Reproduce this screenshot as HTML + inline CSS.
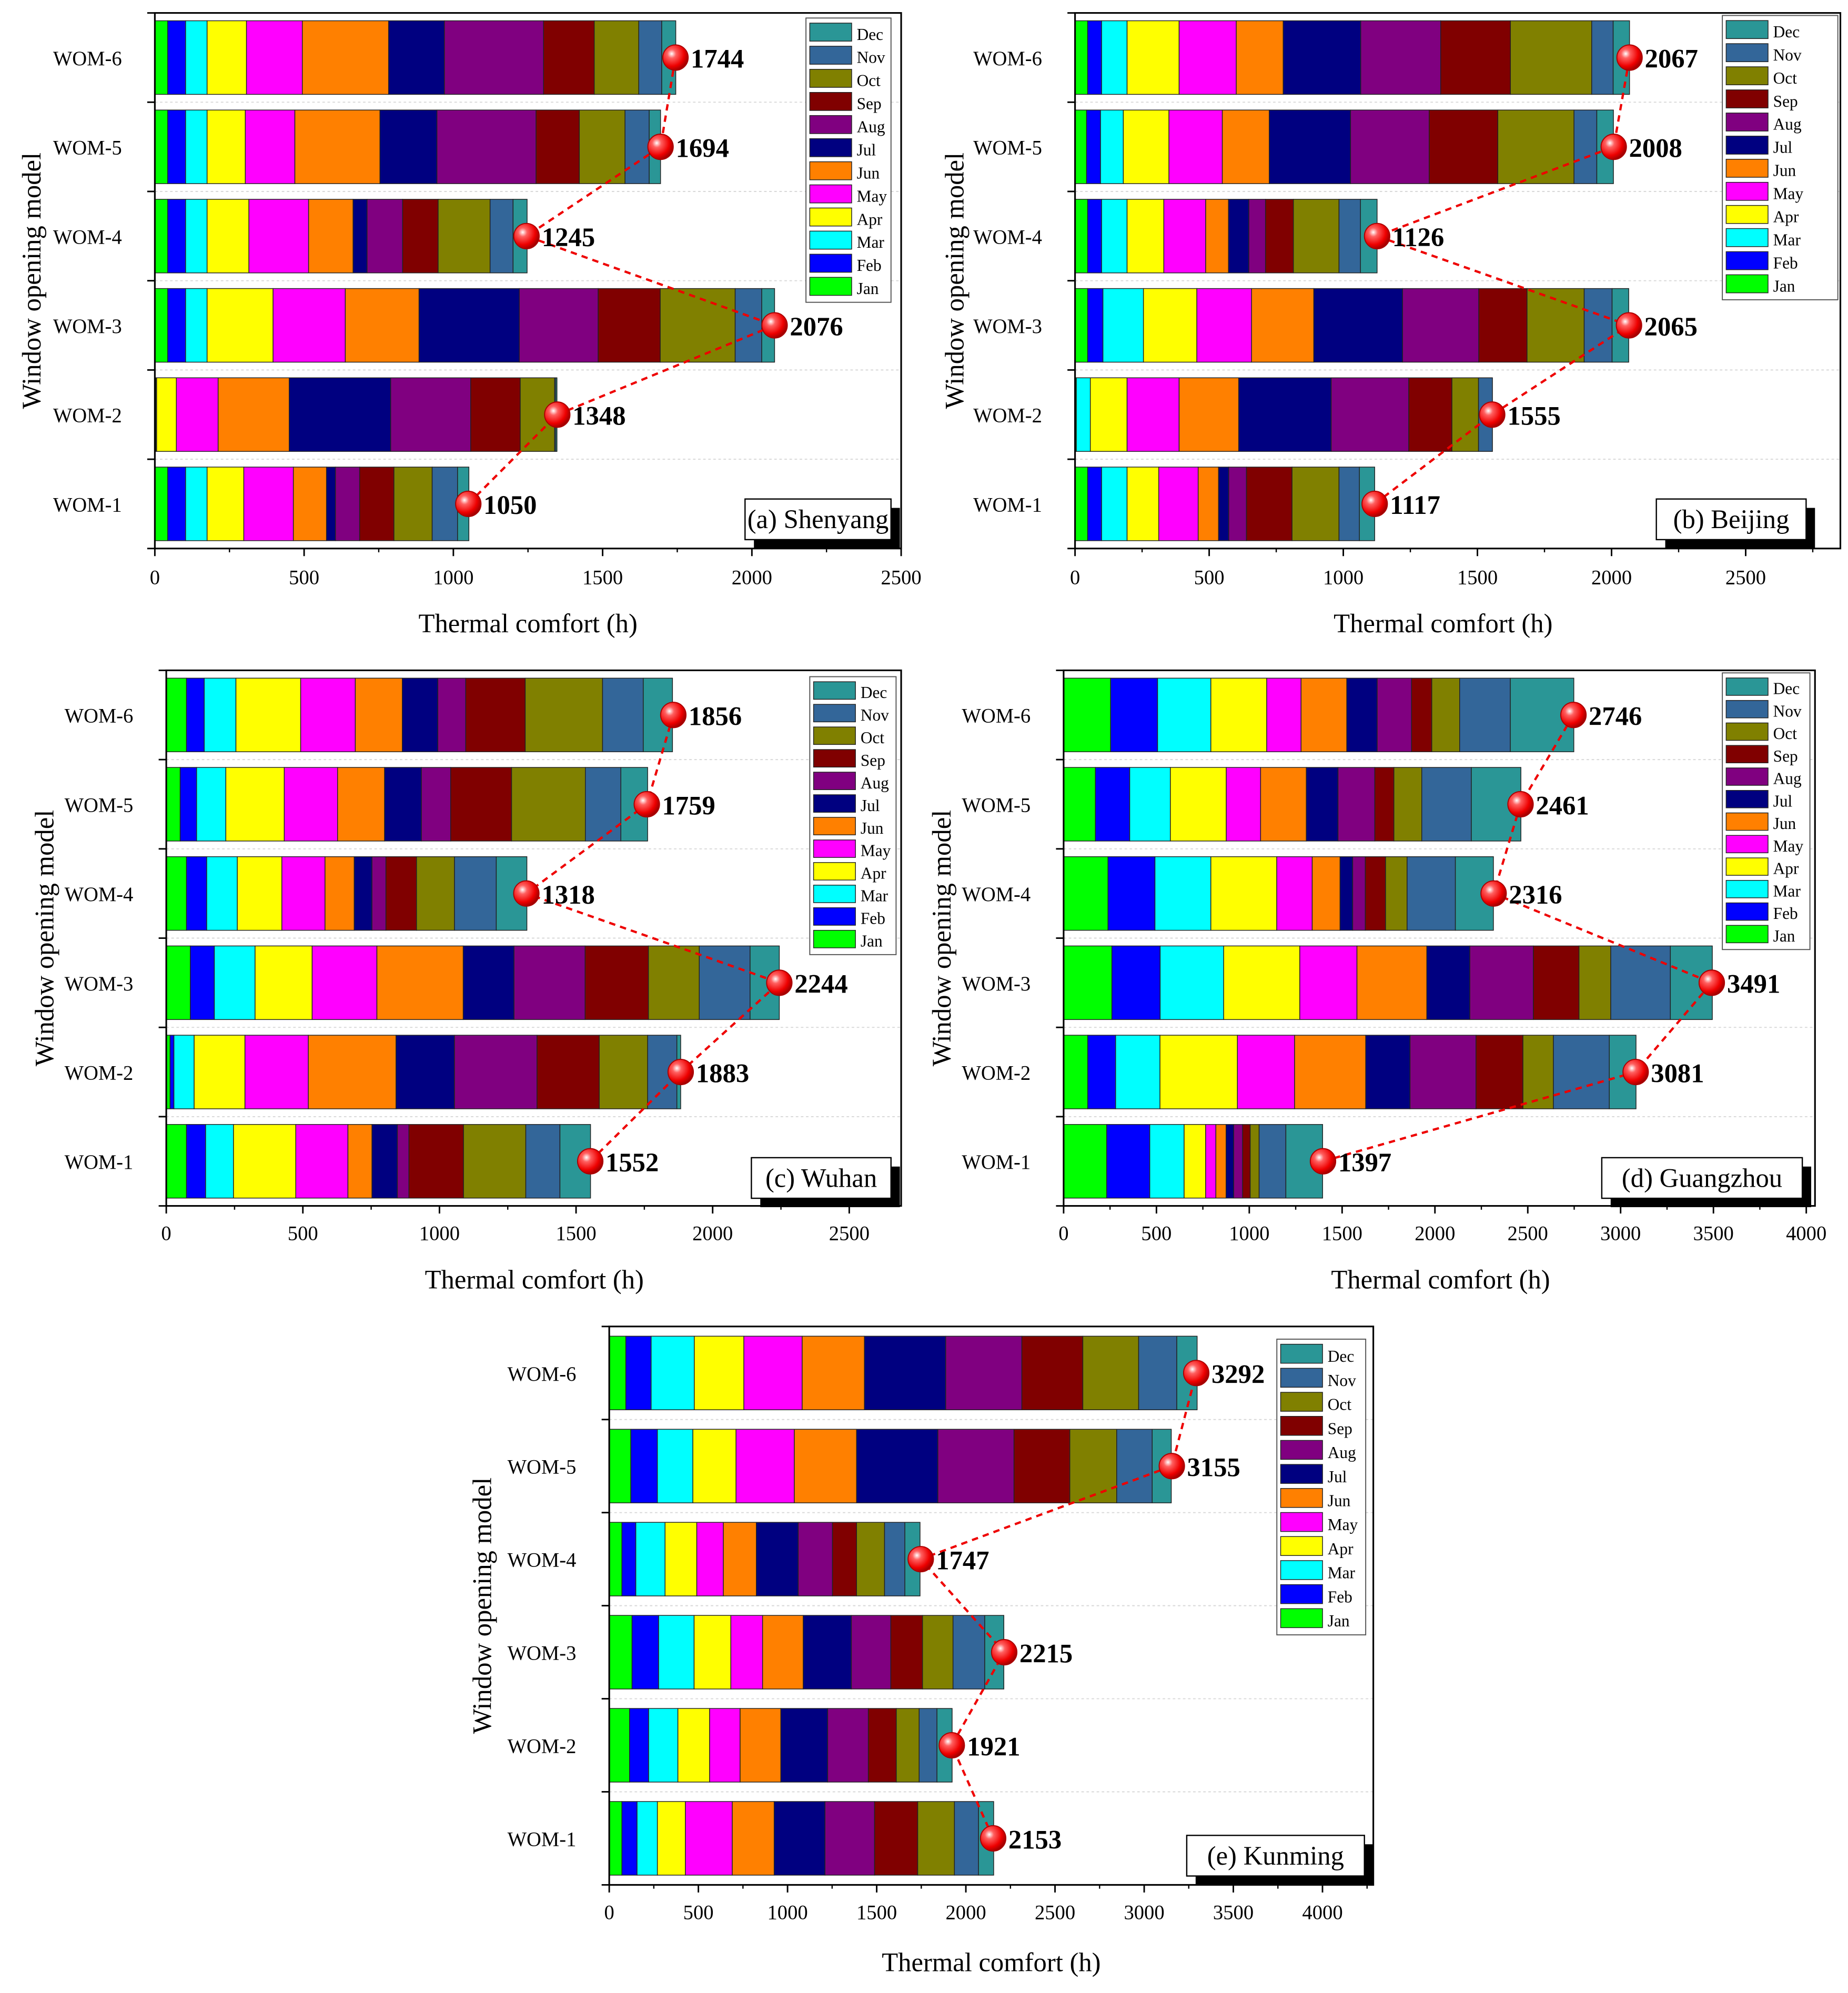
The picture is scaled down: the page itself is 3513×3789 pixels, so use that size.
<!DOCTYPE html>
<html><head><meta charset="utf-8">
<style>
html,body{margin:0;padding:0;background:#fff;}
svg{display:block;}
text{font-family:"Liberation Serif",serif;}
</style></head>
<body>
<svg id="fig" width="3513" height="3789" viewBox="0 0 1456 1570" xmlns="http://www.w3.org/2000/svg">
<defs>
<radialGradient id="ball" cx="35%" cy="35%" r="70%">
<stop offset="0" stop-color="#ffffff"/><stop offset="0.25" stop-color="#ff6060"/><stop offset="0.7" stop-color="#ee0000"/><stop offset="1" stop-color="#990000"/>
</radialGradient>
</defs>
</svg>
<script>
const months = ["Jan","Feb","Mar","Apr","May","Jun","Jul","Aug","Sep","Oct","Nov","Dec"];
const categories = ["WOM-1","WOM-2","WOM-3","WOM-4","WOM-5","WOM-6"];
// monthly hours per WOM (WOM-1..WOM-6), Jan..Dec
const shenyang = [
 [43,60,72,123,166,111,30,81,115,128,85,38],
 [4,0,2,66,140,238,340,268,166,115,4,4],
 [43,60,72,221,242,247,336,264,208,251,89,43],
 [43,60,72,140,200,149,47,119,119,174,77,47],
 [43,60,72,128,166,285,191,332,145,153,81,38],
 [43,60,72,132,187,289,187,332,170,149,77,47]];
const shenyangTotals = [1050,1348,2076,1245,1694,1744];
const beijing = [
 [47,52,95,118,147,76,38,66,170,175,76,57],
 [5,0,52,137,194,222,345,289,161,99,52,0],
 [47,57,151,199,204,232,331,284,180,213,104,62],
 [47,52,95,137,156,85,76,62,104,170,80,62],
 [43,52,85,170,199,175,303,293,256,284,85,62],
 [47,52,95,194,213,175,289,298,260,303,80,61]];
const beijingTotals = [1117,1555,2065,1126,2008,2067];
const wuhan = [
 [74,70,102,228,191,88,93,42,200,228,125,112],
 [14,14,74,186,232,321,214,302,228,177,107,14],
 [88,88,149,209,237,316,186,260,232,186,186,107],
 [74,74,112,163,158,107,65,51,112,139,153,112],
 [51,60,107,214,195,172,135,107,223,270,130,98],
 [74,65,116,237,200,172,130,102,218,283,149,107]];
const wuhanTotals = [1552,1883,2244,1318,1759,1856];
const guangzhou = [
 [232,232,185,116,55,55,41,48,41,48,144,198],
 [130,150,239,417,308,383,239,355,253,164,301,144],
 [260,260,342,410,308,376,232,342,246,171,321,226],
 [239,253,301,355,191,150,68,68,109,116,260,205],
 [171,185,219,301,185,246,171,198,103,150,267,267],
 [253,253,287,301,185,246,164,185,109,150,273,342]];
const guangzhouTotals = [1397,3081,3491,2316,2461,2746];
const kunming = [
 [71,85,114,157,263,235,285,278,242,206,135,85],
 [114,107,164,178,171,228,263,228,157,128,100,85],
 [128,149,199,206,178,228,270,221,178,171,178,107],
 [71,78,164,178,149,185,235,192,135,157,114,85],
 [121,149,199,242,327,349,456,427,313,263,199,107],
 [93,142,242,278,327,349,456,427,342,313,214,114]];
const kunmingTotals = [2153,1921,2215,1747,3155,3292];
const ticksA = [0,500,1000,1500,2000,2500];
const ticksD = [0,500,1000,1500,2000,2500,3000,3500,4000];

const colors = ["#00ff00","#0000ff","#00ffff","#ffff00","#ff00ff","#ff8000","#000080","#800080","#800000","#808000","#336699","#2a9696"];
const NS = "http://www.w3.org/2000/svg";
const svg = document.getElementById("fig");
function mk(tag, attrs, parent){const e=document.createElementNS(NS,tag);for(const k in attrs)e.setAttribute(k,attrs[k]);(parent||svg).appendChild(e);return e;}

const panels = [
 {id:"shenyang",title:"(a) Shenyang",data:shenyang,totals:shenyangTotals,ticks:ticksA,L:122,R:710,T:10,B:432,xmax:2500,leg:[635,14,67,224],lab:[587,393,115,32],xt:[416,498],yt:25,tly:460},
 {id:"beijing",title:"(b) Beijing",data:beijing,totals:beijingTotals,ticks:ticksA,L:847,R:1450,T:10,B:432,xmax:2853,leg:[1357,12,91,224],lab:[1305,393,118,32],xt:[1137,498],yt:752,tly:460},
 {id:"wuhan",title:"(c) Wuhan",data:wuhan,totals:wuhanTotals,ticks:ticksA,L:131,R:710,T:528,B:950,xmax:2690,leg:[638,533,68,219],lab:[592,912,110,32],xt:[421,1015],yt:35,tly:977},
 {id:"guangzhou",title:"(d) Guangzhou",data:guangzhou,totals:guangzhouTotals,ticks:ticksD,L:838,R:1430,T:528,B:950,xmax:4047,leg:[1357,530,69,218],lab:[1262,912,158,32],xt:[1135,1015],yt:742,tly:977},
 {id:"kunming",title:"(e) Kunming",data:kunming,totals:kunmingTotals,ticks:ticksD,L:480,R:1082,T:1045,B:1485,xmax:4285,leg:[1006,1055,70,233],lab:[935,1446,140,32],xt:[781,1553],yt:380,tly:1512}
];

panels.forEach(p=>{
  const g = mk("g",{});
  
  
  const sx = v => p.L + v*(p.R-p.L)/p.xmax;
  const rowH = (p.B-p.T)/6;
  const cy = i => p.T + (5-i+0.5)*rowH;
  for(let k=1;k<6;k++){
    const y=p.T+k*rowH;
    mk("line",{x1:p.L,x2:p.R,y1:y,y2:y,stroke:"#d8d8d8","stroke-width":0.8,"stroke-dasharray":"2,2"},g);
  }
  for(let k=0;k<=6;k++){
    const y=p.T+k*rowH;
    mk("line",{x1:p.L-6,x2:p.L,y1:y,y2:y,stroke:"#000","stroke-width":1.2},g);
  }
  p.data.forEach((row,i)=>{
    let acc=0;
    row.forEach((v,m)=>{
      const r = mk("rect",{x:sx(acc),y:cy(i)-29,width:Math.max(0,sx(acc+v)-sx(acc)),height:58,fill:colors[m],stroke:"#222","stroke-width":0.6},g);
      
      
      acc+=v;
    });
    const t = mk("text",{x:p.L-26,y:cy(i)+6,"text-anchor":"end","font-size":16},g);
    t.textContent = categories[i];
    
    
  });
  const fr = mk("rect",{x:p.L,y:p.T,width:p.R-p.L,height:p.B-p.T,fill:"none",stroke:"#000","stroke-width":1.3},g);
  
  
  p.ticks.forEach(tv=>{
    const x=sx(tv);
    mk("line",{x1:x,x2:x,y1:p.B,y2:p.B+6,stroke:"#000","stroke-width":1.2},g);
    if(tv+250<p.xmax) mk("line",{x1:sx(tv+250),x2:sx(tv+250),y1:p.B,y2:p.B+3,stroke:"#000","stroke-width":1},g);
    const t=mk("text",{x:x,y:p.tly,"text-anchor":"middle","font-size":16},g);
    t.textContent=tv;
    
    
  });
  const xt=mk("text",{x:p.xt[0],y:p.xt[1],"text-anchor":"middle","font-size":21},g);
  xt.textContent="Thermal comfort (h)";
  
  
  const ym=(p.T+p.B)/2;
  const yt=mk("text",{x:p.yt,y:ym,"text-anchor":"middle","font-size":21,transform:`rotate(-90 ${p.yt} ${ym})`,dy:7},g);
  yt.textContent="Window opening model";
  
  
  const pts = p.totals.map((v,i)=>[sx(v),cy(i)]);
  const pl=mk("polyline",{points:pts.map(q=>q.join(",")).join(" "),fill:"none",stroke:"#ee0000","stroke-width":1.8,"stroke-dasharray":"5,4"},g);
  
  
  p.totals.forEach((v,i)=>{
    const c=mk("circle",{cx:sx(v),cy:cy(i),r:10,fill:"url(#ball)",stroke:"#aa0000","stroke-width":0.8},g);
    
    
    const t=mk("text",{x:sx(v)+12,y:cy(i)+8,"font-size":21,"font-weight":"bold"},g);
    t.textContent=v;
    
    
  });
  const [lx,ly,lw,lh]=p.leg;
  const lg=mk("g",{},g);
  
  
  mk("rect",{x:lx,y:ly,width:lw,height:lh,fill:"#fff",stroke:"#555","stroke-width":0.8},lg);
  const step=lh/12.3;
  for(let k=0;k<12;k++){
    const m=11-k;
    const y=ly+4+k*step;
    const e=mk("g",{},lg);
    
    
    mk("rect",{x:lx+3,y:y,width:33,height:step-4,fill:colors[m],stroke:"#222","stroke-width":0.6},e);
    const t=mk("text",{x:lx+40,y:y+step-5,"font-size":13},e);
    t.textContent=months[m];
  }
  const [bx,by,bw,bh]=p.lab;
  const lb=mk("g",{},g);
  
  
  mk("rect",{x:bx+7,y:by+7,width:bw,height:bh,fill:"#000"},lb);
  mk("rect",{x:bx,y:by,width:bw,height:bh,fill:"#fff",stroke:"#000","stroke-width":1},lb);
  const t=mk("text",{x:bx+bw/2,y:by+bh/2+7,"text-anchor":"middle","font-size":21},lb);
  t.textContent=p.title;
});
</script>
</body></html>
